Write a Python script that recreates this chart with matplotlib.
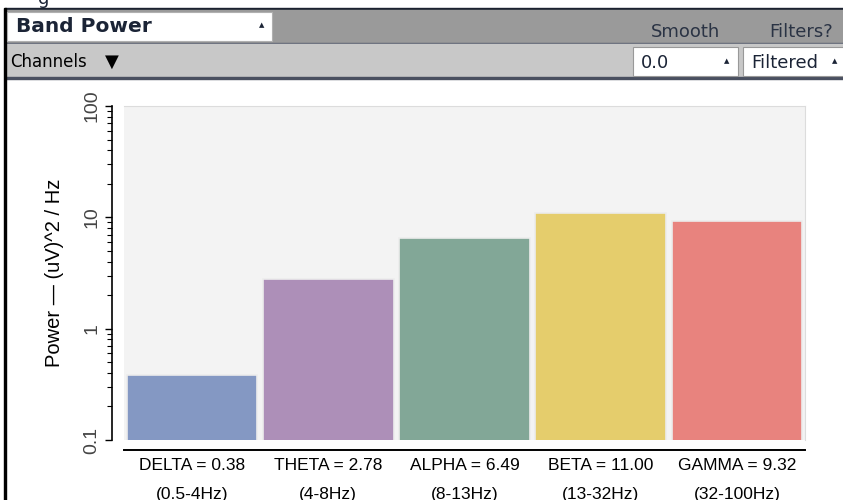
import matplotlib.pyplot as plt
from matplotlib.patches import Rectangle

# band power values per EEG band
bands = ["DELTA", "THETA", "ALPHA", "BETA", "GAMMA"]
ranges = ["(0.5-4Hz)", "(4-8Hz)", "(8-13Hz)", "(13-32Hz)", "(32-100Hz)"]
power = [0.38, 2.78, 6.49, 11.00, 9.32]
colors = ["#8498c3", "#ad8fb8", "#82a797", "#e5cd6c", "#e8837e"]

W, H = 843, 500
fig = plt.figure(figsize=(W / 100, H / 100), dpi=100)
fig.patch.set_facecolor("white")

# ---- widget header (drawn in pixel coords) ----
ui = fig.add_axes([0, 0, 1, 1])
ui.set_xlim(0, W)
ui.set_ylim(H, 0)
ui.axis("off")
ui.set_zorder(0)

txt = "#1b2436"
hfont = "DejaVu Sans"
ui.text(38, 4, "g", fontsize=13, color=txt, family=hfont, va="baseline")
ui.add_patch(Rectangle((5, 8), W, 2, color="#1b2230"))
ui.add_patch(Rectangle((5, 10), W, 33, color="#9a9a9a"))
ui.add_patch(Rectangle((5, 43), W, 1, color="#5a6070"))
ui.add_patch(Rectangle((5, 44), W, 34, color="#c8c8c8"))
ui.add_patch(Rectangle((5, 77), W, 2, color="#4a5060"))
ui.add_patch(Rectangle((4, 8), 2, H, color="black"))

ui.add_patch(Rectangle((7, 12), 265, 29, facecolor="white", edgecolor="#b0b0b0", lw=0.8))
ui.text(16, 27, "Band Power", fontsize=14.5, fontweight="bold", color=txt,
        family=hfont, va="center")
ui.text(262, 25, "\u25b2", fontsize=5, color=txt, ha="center", va="center")

ui.text(685, 32, "Smooth", fontsize=13, color="#2a3344", family=hfont,
        ha="center", va="center")
ui.text(801, 32, "Filters?", fontsize=13, color="#2a3344", family=hfont,
        ha="center", va="center")

ui.text(10, 62, "Channels", fontsize=12, color="black", family=hfont, va="center")
ui.text(112, 62, "\u25bc", fontsize=13, color="black", ha="center", va="center")

ui.add_patch(Rectangle((633, 47), 105, 29, facecolor="white", edgecolor="#999999", lw=0.8))
ui.text(641, 63, "0.0", fontsize=13, color=txt, family=hfont, va="center")
ui.text(727, 61, "\u25b2", fontsize=5, color=txt, ha="center", va="center")
ui.add_patch(Rectangle((743, 47), 105, 29, facecolor="white", edgecolor="#999999", lw=0.8))
ui.text(751, 63, "Filtered", fontsize=13, color=txt, family=hfont, va="center")
ui.text(835, 61, "\u25b2", fontsize=5, color=txt, ha="center", va="center")

# ---- bar chart ----
left, right, top, bottom = 124, 805, 106, 440
ax = fig.add_axes([left / W, 1 - bottom / H, (right - left) / W, (bottom - top) / H])
ax.set_zorder(1)
ax.set_facecolor("#f3f3f3")
ax.set_yscale("log")
ax.set_ylim(0.1, 100)
ax.set_xlim(-0.5, len(bands) - 0.5)

x = range(len(bands))
ax.bar(x, power, width=0.96, color=colors, edgecolor="#ececec", linewidth=1.2)

for s in ["top", "right"]:
    ax.spines[s].set_color("#dcdcdc")
ax.spines["left"].set_position(("outward", 9))
ax.spines["bottom"].set_position(("outward", 7))
ax.spines["left"].set_linewidth(1.2)
ax.spines["bottom"].set_linewidth(1.4)

cfont = "Liberation Sans"
ax.set_yticks([0.1, 1, 10, 100])
ax.set_yticklabels(["0.1", "1", "10", "100"], rotation=90, va="center",
                   family=cfont, fontsize=14, color="#444444")
ax.tick_params(axis="y", which="major", length=5, width=1, pad=3)
ax.tick_params(axis="y", which="minor", length=3.5, width=0.8)

ax.set_xticks(list(x))
ax.set_xticklabels([f"{b} = {v:.2f}\n{r}" for b, v, r in zip(bands, power, ranges)],
                   family=cfont, fontsize=12.5, linespacing=2.2)
ax.tick_params(axis="x", length=0, pad=6)

ax.set_ylabel("Power \u2014 (uV)^2 / Hz", family=cfont, fontsize=14.5, labelpad=14)

fig.savefig("out.png", dpi=100)
